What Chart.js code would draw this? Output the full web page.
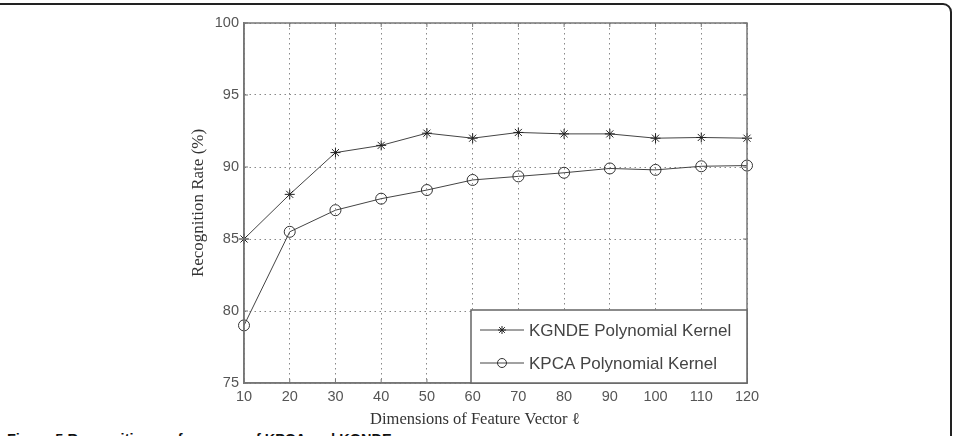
<!DOCTYPE html>
<html>
<head>
<meta charset="utf-8">
<script src="https://cdn.jsdelivr.net/npm/chart.js@4.4.0/dist/chart.umd.min.js"></script>
<style>
  html, body { margin: 0; padding: 0; background: #fff; overflow: hidden; }
  #wrap { position: relative; width: 957px; height: 436px; overflow: hidden; }
  #frame {
    position: absolute; left: -20px; top: 3px; width: 972px; height: 520px;
    border: 2px solid #222; border-radius: 9px; box-sizing: border-box;
  }
  #caption {
    position: absolute; left: 7px; top: 431px; line-height: 1;
    font: bold 14.5px "Liberation Sans", Arial, sans-serif; color: #111; white-space: nowrap;
  }
  #chart { position: absolute; left: 0; top: 0; }
</style>
</head>
<body>
<div id="wrap">
  <div id="frame"></div>
  <div id="caption">Figure 5 Recognition performance of KPCA and KGNDE</div>
  <canvas id="chart" width="957" height="436"></canvas>
</div>
<script>
// Data
const dims = [10, 20, 30, 40, 50, 60, 70, 80, 90, 100, 110, 120];
const kgndeRate = [85.0, 88.1, 91.0, 91.5, 92.35, 92.0, 92.4, 92.3, 92.3, 92.0, 92.05, 92.0];
const kpcaRate = [79.0, 85.5, 87.0, 87.8, 88.4, 89.1, 89.35, 89.6, 89.9, 89.8, 90.05, 90.1];
const seriesNames = ['KGNDE Polynomial Kernel', 'KPCA Polynomial Kernel'];
const yTicks = [75, 80, 85, 90, 95, 100];
const xTicks = [10, 20, 30, 40, 50, 60, 70, 80, 90, 100, 110, 120];

const lineColor = '#444';
const tickFont = { family: '"Liberation Sans", Arial, sans-serif', size: 14.5 };

// Box around plot + inner tick marks (matlab style)
const framePlugin = {
    id: 'frame',
    afterDatasetsDraw(chart) {
        const { ctx, chartArea: a, scales } = chart;
        ctx.save();
        ctx.strokeStyle = '#777';
        ctx.lineWidth = 1.5;
        ctx.strokeRect(a.left, a.top, a.right - a.left, a.bottom - a.top);
        ctx.lineWidth = 1;
        ctx.beginPath();
        yTicks.forEach(v => {
            const y = scales.y.getPixelForValue(v);
            ctx.moveTo(a.left, y); ctx.lineTo(a.left + 4, y);
            ctx.moveTo(a.right, y); ctx.lineTo(a.right - 4, y);
        });
        xTicks.forEach(v => {
            const x = scales.x.getPixelForValue(v);
            ctx.moveTo(x, a.bottom); ctx.lineTo(x, a.bottom - 4);
            ctx.moveTo(x, a.top); ctx.lineTo(x, a.top + 4);
        });
        ctx.stroke();
        ctx.restore();
    }
};

// Legend box inside the plot, bottom right
const legendPlugin = {
    id: 'boxLegend',
    afterDraw(chart) {
        const { ctx, chartArea: a } = chart;
        const w = 276, h = 73;
        const left = a.right - w, top = a.bottom - h;
        ctx.save();
        ctx.fillStyle = '#fff';
        ctx.fillRect(left, top, w, h);
        ctx.strokeStyle = '#666';
        ctx.lineWidth = 1.5;
        ctx.strokeRect(left, top, w, h);
        const rows = [top + 20, top + 53];
        chart.data.datasets.forEach((ds, i) => {
            const y = rows[i];
            ctx.strokeStyle = ds.borderColor;
            ctx.lineWidth = 1;
            ctx.beginPath();
            ctx.moveTo(left + 9, y); ctx.lineTo(left + 53, y);
            ctx.stroke();
            ctx.fillStyle = ds.pointBackgroundColor;
            ctx.strokeStyle = ds.pointBorderColor;
            Chart.helpers.drawPoint(ctx, {
                pointStyle: ds.pointStyle, radius: ds.pointRadius - 1,
                rotation: 0, borderWidth: 1
            }, left + 31, y);
            ctx.fillStyle = '#444';
            ctx.font = '17px "Liberation Sans", Arial, sans-serif';
            ctx.textBaseline = 'middle';
            ctx.textAlign = 'left';
            ctx.fillText(ds.label, left + 58, y + 1);
        });
        ctx.restore();
    }
};

new Chart(document.getElementById('chart'), {
    type: 'line',
    data: {
        datasets: [
            {
                label: seriesNames[0],
                data: dims.map((d, i) => ({ x: d, y: kgndeRate[i] })),
                borderColor: lineColor,
                borderWidth: 1,
                pointStyle: 'star',
                pointRadius: 5,
                pointBorderColor: '#222',
                pointBackgroundColor: '#222',
                pointBorderWidth: 1,
                clip: false
            },
            {
                label: seriesNames[1],
                data: dims.map((d, i) => ({ x: d, y: kpcaRate[i] })),
                borderColor: lineColor,
                borderWidth: 1,
                pointStyle: 'circle',
                pointRadius: 5.5,
                pointBorderColor: '#333',
                pointBackgroundColor: 'rgba(0,0,0,0)',
                pointBorderWidth: 1,
                clip: false
            }
        ]
    },
    options: {
        responsive: false,
        animation: false,
        devicePixelRatio: 1,
        layout: { padding: { left: 184, right: 210, top: 23, bottom: 0 } },
        plugins: { legend: { display: false }, tooltip: { enabled: false } },
        scales: {
            x: {
                type: 'linear',
                min: 10, max: 120,
                afterFit(scale) { scale.height = 53; },
                ticks: { stepSize: 10, padding: 5, color: '#555', font: tickFont, maxRotation: 0 },
                grid: { color: '#888', lineWidth: 1, drawTicks: false },
                border: { display: true, color: '#777', width: 1.5, dash: [1.5, 3.5] },
                title: {
                    display: true,
                    text: 'Dimensions of Feature Vector \u2113' + '\u2002'.repeat(5),
                    color: '#333',
                    font: { family: '"Liberation Serif", "Times New Roman", serif', size: 16.5 },
                    padding: { top: 0, bottom: 6 }
                }
            },
            y: {
                min: 75, max: 100,
                afterFit(scale) { scale.width = 60; },
                ticks: { stepSize: 5, padding: 5, color: '#555', font: tickFont },
                grid: { color: '#888', lineWidth: 1, drawTicks: false },
                border: { display: true, color: '#777', width: 1.5, dash: [1.5, 3.5] },
                title: {
                    display: true,
                    text: 'Recognition Rate (%)',
                    color: '#333',
                    font: { family: '"Liberation Serif", "Times New Roman", serif', size: 17 },
                    padding: { top: 4, bottom: 0 }
                }
            }
        }
    },
    plugins: [framePlugin, legendPlugin]
});
</script>
</body>
</html>
